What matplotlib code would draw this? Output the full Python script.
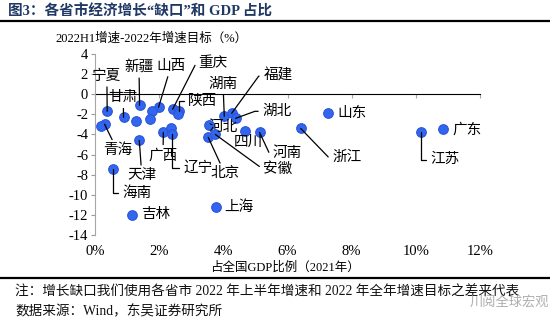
import matplotlib
matplotlib.use('Agg')
import matplotlib.pyplot as plt
from matplotlib.lines import Line2D

plt.rcParams['font.family'] = ['Liberation Serif', 'Noto Sans CJK SC']
plt.rcParams['axes.unicode_minus'] = False

# 省市, 占全国GDP比例(%), 2022H1增速-2022年增速目标(%)
provinces = ['宁夏', '甘肃', '新疆', '山西', '内蒙古', '黑龙江', '贵州', '青海', '西藏',
             '天津', '广西', '云南', '辽宁', '海南', '吉林', '上海', '重庆', '陕西', '江西',
             '湖南', '福建', '湖北', '河北', '北京', '安徽', '四川', '河南', '浙江', '山东',
             '江苏', '广东']
gdp_share = [0.38, 0.89, 1.39, 1.98, 1.79, 1.29, 1.70, 0.30, 0.18,
             1.38, 2.13, 2.38, 2.41, 0.57, 1.14, 3.77, 2.42, 2.62, 2.59,
             4.03, 4.26, 4.38, 3.54, 3.53, 3.75, 4.69, 5.13, 6.41, 7.25,
             10.16, 10.85]
growth_gap = [-1.7, -2.3, -1.1, -1.3, -1.7, -2.7, -2.5, -3.0, -3.2,
              -4.6, -3.8, -3.4, -4.0, -7.4, -12.0, -11.2, -1.5, -1.7, -2.0,
              -2.2, -1.9, -2.4, -3.1, -4.3, -4.0, -3.7, -3.8, -3.4, -1.9,
              -3.8, -3.5]

# label position (data coords) and leader-line style (None = no line)
labels = {
    '宁夏': (0.37, 1.8, 'arc3'),
    '新疆': (1.37, 2.7, 'arc3'),
    '山西': (2.37, 2.8, 'arc3'),
    '甘肃': (0.88, -0.35, 'arc3'),
    '青海': (0.70, -5.6, 'arc3'),
    '天津': (1.46, -8.1, 'arc3'),
    '广西': (2.12, -6.1, 'arc3'),
    '辽宁': (3.20, -7.3, 'angle,angleA=0,angleB=90,rad=0'),
    '海南': (1.30, -9.8, 'angle,angleA=0,angleB=90,rad=0'),
    '吉林': (1.90, -12.0, None),
    '上海': (4.50, -11.2, None),
    '重庆': (3.68, 3.1, 'angle,angleA=0,angleB=63,rad=0'),
    '陕西': (3.35, -0.7, 'angle,angleA=0,angleB=90,rad=0'),
    '湖南': (3.99, 1.0, 'arc3'),
    '福建': (5.70, 1.8, 'angle,angleA=0,angleB=54,rad=0'),
    '湖北': (5.67, -1.7, 'angle,angleA=0,angleB=20,rad=0'),
    '河北': (3.99, -3.3, None),
    '北京': (4.05, -7.9, 'arc3'),
    '安徽': (5.70, -7.4, 'angle,angleA=0,angleB=-36,rad=0'),
    '四川': (4.78, -4.8, None),
    '河南': (5.98, -5.9, 'angle,angleA=0,angleB=-65,rad=0'),
    '浙江': (7.85, -6.3, 'angle,angleA=0,angleB=-46,rad=0'),
    '山东': (8.00, -1.9, None),
    '江苏': (10.9, -6.5, 'angle,angleA=0,angleB=90,rad=0'),
    '广东': (11.6, -3.5, None),
}

navy = '#1f3864'
fig = plt.figure(figsize=(5.5, 3.22), dpi=100)

# title, rules and notes
fig.text(8 / 550, 1 - 12 / 322, '图3：各省市经济增长“缺口”和 GDP 占比', fontsize=10.5,
         fontweight='bold', color=navy, va='center', ha='left')
fig.add_artist(Line2D([0.0, 1.0], [1 - 21 / 322] * 2, color='black', lw=1.6))
fig.add_artist(Line2D([0.0, 1.0], [1 - 278 / 322] * 2, color='black', lw=1.6))
fig.text(15 / 550, 1 - 292 / 322, '注：增长缺口我们使用各省市 2022 年上半年增速和 2022 年全年增速目标之差来代表',
         fontsize=9.8, color='#111111', va='center', ha='left')
fig.text(15 / 550, 1 - 312 / 322, '数据来源：Wind，东吴证券研究所', fontsize=9.8,
         color='#111111', va='center', ha='left')
fig.text(470 / 550, 1 - 303 / 322, '川阅全球宏观', fontsize=9.5, color='#999999',
         alpha=0.8, va='center', ha='left')

fig.text(151 / 550, 1 - 39 / 322, '2022H1增速-2022年增速目标（%）', fontsize=9,
         va='center', ha='center')
fig.text(285 / 550, 1 - 268 / 322, '占全国GDP比例（2021年）', fontsize=9,
         va='center', ha='center')

ax = fig.add_axes([95 / 550, 1 - 235 / 322, 385 / 550, 181 / 322])
ax.set_xlim(0, 12)
ax.set_ylim(-14, 4)
ax.set_yticks(range(-14, 5, 2))
ax.set_xticks(range(0, 13, 2))
ax.set_xticklabels([f'{v}%' for v in range(0, 13, 2)])
ax.tick_params(axis='x', length=0, labelsize=10.5, pad=7)
ax.tick_params(axis='y', length=3, color='#999999', labelsize=10.5, pad=2)
for s in ['top', 'right', 'bottom']:
    ax.spines[s].set_visible(False)
ax.spines['left'].set_color('#a6a6a6')

# x axis line sits at y=0
zero_ax = ax.secondary_xaxis(location=14 / 18)
zero_ax.set_xticks(range(0, 13, 2))
zero_ax.set_xticklabels([])
zero_ax.tick_params(axis='x', direction='in', length=3, color='#a6a6a6')
zero_ax.spines['bottom'].set_color('#a6a6a6')

ax.scatter(gdp_share, growth_gap, s=48, color='#3366ee', edgecolor='#2a55d8',
           linewidth=0.8, zorder=3)

for name, x, y in zip(provinces, gdp_share, growth_gap):
    if name not in labels:
        continue
    lx, ly, conn = labels[name]
    arrow = None
    if conn is not None:
        arrow = dict(arrowstyle='-', color='black', lw=0.9, shrinkA=1, shrinkB=0,
                     connectionstyle=conn)
    ax.annotate(name, xy=(x, y), xytext=(lx, ly), fontsize=10.5, ha='center',
                va='center', arrowprops=arrow, zorder=4)

plt.savefig('out.png', dpi=100)
